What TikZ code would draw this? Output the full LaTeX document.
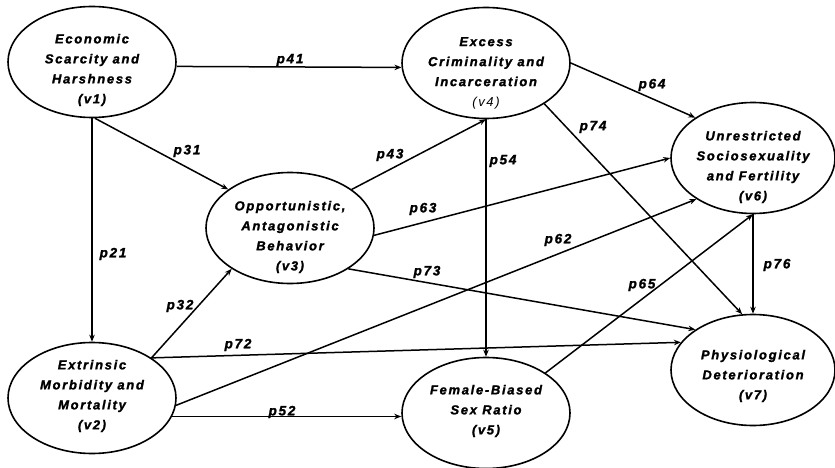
\documentclass[tikz,border=0pt]{standalone}
\usepackage{fontspec}
\setmainfont{Liberation Sans}[LetterSpace=13, BoldItalicFeatures={FakeBold=1.6}]
\usepackage{tikz}
\usetikzlibrary{arrows.meta,positioning,shapes.geometric}
\tikzset{
  pathvar/.style={
    ellipse,
    draw=black,
    line width=1.6pt,
    minimum width=168pt,
    minimum height=111pt,
    inner sep=0pt
  },
  pathvarright/.style={pathvar, minimum width=164pt},
  vartext/.style={
    inner sep=0pt,
    align=center,
    font=\bfseries\itshape\fontsize{13}{20}\selectfont
  },
  pathlabel/.style={inner sep=0pt, font=\bfseries\itshape\fontsize{13.5}{16}\selectfont},
  patharrow/.style={-{Stealth[length=7pt,width=5.5pt]}, line width=1.5pt}
}

\begin{document}
\begin{tikzpicture}[x=1pt,y=-1pt]
\useasboundingbox (0,0) rectangle (835,468);
\node[pathvar, label={[vartext, yshift=-8pt]center:{Economic\\Scarcity and\\Harshness\\(v1)}}] (harsh) at (92,62) {};
\node[pathvar, label={[vartext, yshift=-10pt]center:{Excess\\Criminality and\\Incarceration\\{\mdseries(v4)}}}] (crime) at (486,63) {};
\node[pathvarright, label={[vartext, yshift=-9pt]center:{Unrestricted\\Sociosexuality\\and Fertility\\(v6)}}] (fertil) at (753,158) {};
\node[pathvar, label={[vartext, yshift=-9pt]center:{Opportunistic,\\Antagonistic\\Behavior\\(v3)}}] (antag) at (290,228) {};
\node[pathvar, label={[vartext, yshift=2pt]center:{Extrinsic\\Morbidity and\\Mortality\\(v2)}}] (morbid) at (92,398) {};
\node[pathvar, label={[vartext, yshift=2pt]center:{Female-Biased\\Sex Ratio\\(v5)}}] (sexratio) at (486,413) {};
\node[pathvarright, label={[vartext, yshift=-6pt]center:{Physiological\\Deterioration\\(v7)}}] (decline) at (753,370) {};
% paths out of v1 and v2
\draw[patharrow] (harsh.-3) -- (crime.183);
\draw[patharrow] (harsh.south) -- (morbid.north);
\draw[patharrow] (harsh.-87) -- (antag.148);
\draw[patharrow] (morbid.34) -- (antag.215);
\draw[patharrow] (morbid.34) -- (decline.159);
\draw[patharrow] (morbid.-5) -- (fertil.216);
\draw[patharrow] (morbid.-13) -- (morbid.-13 -| sexratio.west);
% paths out of v3, v4, v5, v6
\draw[patharrow] (antag.32) -- (crime.south);
\draw[patharrow] (antag.-5) -- (fertil.west);
\draw[patharrow] (antag.-35) -- (decline.145);
\draw[patharrow] (crime.east) -- (fertil.145);
\draw[patharrow] (crime.-35) -- (decline.101);
\draw[patharrow] (crime.south) -- (sexratio.north);
\draw[patharrow] (sexratio.34) -- (fertil.south);
\draw[patharrow] (fertil.south) -- (decline.north);
% coefficient labels
\node[pathlabel] (p41) at (290,60) {p41};
\node[pathlabel] (p21) at (113,254) {p21};
\node[pathlabel] (p31) at (187,151) {p31};
\node[pathlabel] (p32) at (180,306) {p32};
\node[pathlabel] (p72) at (238,345) {p72};
\node[pathlabel] (p62) at (558,240) {p62};
\node[pathlabel] (p52) at (282,412) {p52};
\node[pathlabel] (p43) at (390,155) {p43};
\node[pathlabel] (p63) at (423,209) {p63};
\node[pathlabel] (p73) at (427,272) {p73};
\node[pathlabel] (p64) at (652,85) {p64};
\node[pathlabel] (p74) at (593,127) {p74};
\node[pathlabel] (p54) at (503,161) {p54};
\node[pathlabel] (p65) at (642,285) {p65};
\node[pathlabel] (p76) at (777,265) {p76};
\end{tikzpicture}
\end{document}
